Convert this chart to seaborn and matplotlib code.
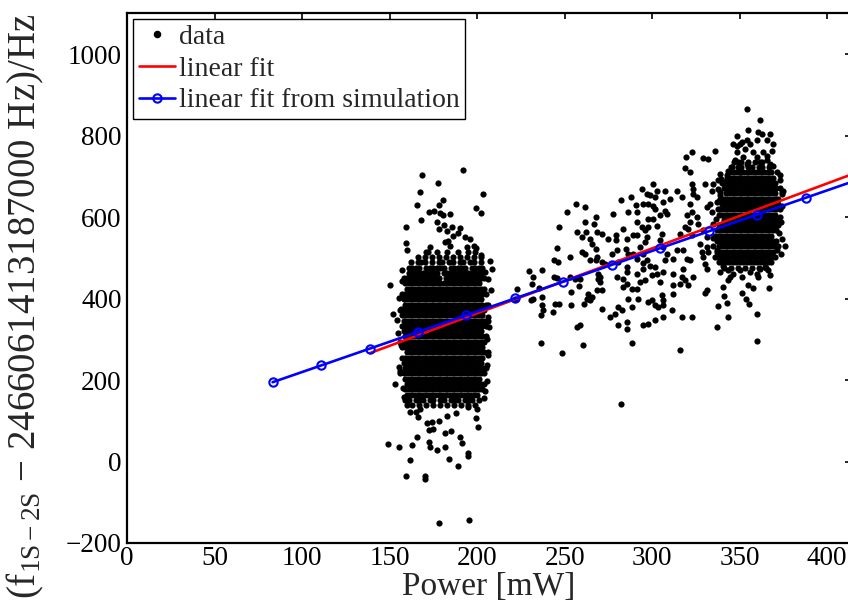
import matplotlib
matplotlib.use("Agg")
import matplotlib.pyplot as plt
from matplotlib.lines import Line2D
import pandas as pd
import seaborn as sns

# ---------------- data ----------------
# Dense core of the low-power run: (offset in Hz, powers in mW measured at that offset)
core_low = [
    (138, [163, 167, 171, 175, 179, 183, 187, 191, 195, 199]),
    (151, [159, 161, 165, 167, 169, 173, 175, 179, 181, 185, 187, 189, 193, 195, 197, 201]),
    (164, [160, 162, 164, 166, 168, 170, 172, 174, 176, 178, 180, 182, 184, 186, 188, 190, 192, 194, 196, 198, 200]),
    (177, [159, 161, 163, 165, 167, 169, 171, 173, 175, 177, 179, 181, 183, 185, 187, 189, 191, 193, 195, 197, 199, 201, 203]),
    (190, [160, 162, 164, 166, 168, 170, 172, 174, 176, 178, 180, 182, 184, 186, 188, 190, 192, 194, 196, 198, 200, 202, 204]),
    (203, [159, 161, 163, 165, 167, 169, 171, 173, 175, 177, 179, 181, 183, 185, 187, 189, 191, 193, 195, 197, 199, 201]),
    (216, [156, 158, 160, 162, 164, 166, 168, 170, 172, 174, 176, 178, 180, 182, 184, 186, 188, 190, 192, 194, 196, 198, 200, 202, 204]),
    (229, [159, 161, 163, 165, 167, 169, 171, 173, 175, 177, 179, 181, 183, 185, 187, 189, 191, 193, 195, 197, 199, 201, 203, 205]),
    (242, [158, 160, 162, 164, 166, 168, 170, 172, 174, 176, 178, 180, 182, 184, 186, 188, 190, 192, 194, 196, 198, 200, 202]),
    (255, [157, 159, 161, 163, 165, 167, 169, 171, 173, 175, 177, 179, 181, 183, 185, 187, 189, 191, 193, 195, 197, 199, 201, 203]),
    (268, [160, 162, 164, 166, 168, 170, 172, 174, 176, 178, 180, 182, 184, 186, 188, 190, 192, 194, 196, 198, 200, 202, 204, 206]),
    (281, [157, 159, 161, 163, 165, 167, 169, 171, 173, 175, 177, 179, 181, 183, 185, 187, 189, 191, 193, 195, 197, 199, 201, 203]),
    (294, [156, 158, 160, 162, 164, 166, 168, 170, 172, 174, 176, 178, 180, 182, 184, 186, 188, 190, 192, 194, 196, 198, 200, 202, 204]),
    (307, [159, 161, 163, 165, 167, 169, 171, 173, 175, 177, 179, 181, 183, 185, 187, 189, 191, 193, 195, 197, 199, 201, 203, 205]),
    (320, [158, 160, 162, 164, 166, 168, 170, 172, 174, 176, 178, 180, 182, 184, 186, 188, 190, 192, 194, 196, 198, 200, 202]),
    (333, [157, 159, 161, 163, 165, 167, 169, 171, 173, 175, 177, 179, 181, 183, 185, 187, 189, 191, 193, 195, 197, 199, 201, 203, 205]),
    (346, [158, 160, 162, 164, 166, 168, 170, 172, 174, 176, 178, 180, 182, 184, 186, 188, 190, 192, 194, 196, 198, 200, 202, 204, 206]),
    (359, [157, 159, 161, 163, 165, 167, 169, 171, 173, 175, 177, 179, 181, 183, 185, 187, 189, 191, 193, 195, 197, 199, 201, 203]),
    (372, [156, 158, 160, 162, 164, 166, 168, 170, 172, 174, 176, 178, 180, 182, 184, 186, 188, 190, 192, 194, 196, 198, 200, 202, 204]),
    (385, [159, 161, 163, 165, 167, 169, 171, 173, 175, 177, 179, 181, 183, 185, 187, 189, 191, 193, 195, 197, 199, 201, 203, 205]),
    (398, [158, 160, 162, 164, 166, 168, 170, 172, 174, 176, 178, 180, 182, 184, 186, 188, 190, 192, 194, 196, 198, 200, 202]),
    (411, [157, 159, 161, 163, 165, 167, 169, 171, 173, 175, 177, 179, 181, 183, 185, 187, 189, 191, 193, 195, 197, 199, 201, 203]),
    (424, [160, 162, 164, 166, 168, 170, 172, 174, 176, 178, 180, 182, 184, 186, 188, 190, 192, 194, 196, 198, 200, 202, 204]),
    (437, [159, 161, 163, 165, 167, 169, 171, 173, 175, 177, 179, 181, 183, 185, 187, 189, 191, 193, 195, 197, 199, 201]),
    (450, [158, 160, 162, 164, 166, 168, 170, 172, 174, 176, 178, 182, 184, 186, 188, 190, 192, 194, 196, 198, 200, 202, 204]),
    (463, [161, 163, 165, 167, 169, 171, 173, 175, 177, 181, 183, 185, 187, 189, 191, 193, 195, 197, 199, 201, 203]),
    (476, [161, 163, 165, 167, 171, 173, 175, 177, 179, 181, 185, 187, 189, 191, 193, 197, 199, 201, 203]),
    (489, [162, 166, 168, 170, 174, 178, 180, 184, 186, 190, 192, 196, 198, 202]),
    (502, [166, 170, 174, 178, 182, 186, 190, 194, 198, 202]),
    (515, [171, 177, 183, 189, 195, 199]),
]

# Scattered points around the low-power run: (power mW, offset Hz)
scatter_low = [
    (168.4, 704), (192.1, 715), (177.6, 684), (167.5, 662), (203.5, 657), (165.4, 630),
    (180.3, 642), (178.2, 630), (167.9, 593), (172.3, 612), (175.5, 614), (178.7, 610),
    (180.6, 604), (184.5, 608), (199.3, 622), (202.2, 610), (176.9, 587), (181, 580),
    (185.4, 575), (178.4, 570), (182.6, 566), (159.3, 575), (190.2, 572), (189.2, 562),
    (186.3, 553), (193, 550), (195.9, 545), (159.3, 536), (160, 518), (181.6, 538),
    (183.5, 540), (184.5, 528), (198.2, 530), (199.3, 524), (194, 527), (173, 526), (172, 514),
    (150.2, 434), (152, 363), (154, 348), (207.3, 491), (208.3, 473), (207.9, 420),
    (206, 383), (206, 355), (202, 508), (204.5, 173), (153, 191), (155.5, 232),
    (155.6, 222), (156.5, 287), (155, 316), (156.2, 375), (155.4, 402), (157, 444),
    (156.8, 470), (157.5, 180), (158, 158), (205.5, 197), (206.2, 262), (205.8, 301),
    (206.5, 330), (205.2, 410), (206.4, 448), (205.5, 236), (204.6, 466), (203.8, 156),
    (149.2, 42), (155.5, 35), (162.6, 40), (161.6, 3), (159.3, -35), (170.2, -35),
    (170.2, -43), (172.6, 48), (173, 36), (176.9, 28), (181.4, 36), (183.9, 6),
    (189.2, -11), (194.9, 20), (194.9, 13), (190.2, 59), (191.1, 46), (165.4, 59),
    (172.6, 77), (174.6, 79), (181.6, 70), (184.9, 74), (171.1, 95), (174, 97),
    (178.2, 99), (199.3, 106), (200.3, 84), (178.2, -152), (195.5, -144), (165, 122),
    (167.3, 130), (166, 110), (194.9, 135), (161.6, 122), (159.7, 138), (199.7, 128),
    (188, 120), (183, 112),
]

# Points between the two main runs
scatter_mid = [
    (256.4, 632), (261.8, 624), (251.1, 612), (246.9, 575), (257.2, 563), (262, 563),
    (261.6, 588), (266.7, 584), (267.7, 600), (259.7, 551), (264.4, 547), (268.6, 563),
    (271.1, 559), (274.9, 547), (279.3, 543), (279.3, 555), (277.4, 608), (282.2, 641),
    (288.1, 649), (286, 612), (291.1, 612), (290.5, 630), (294, 669), (296.8, 657),
    (294.9, 632), (297.8, 632), (283.5, 571), (285.4, 547), (289.2, 555), (291.1, 555),
    (291.1, 588), (294, 575), (295.9, 567), (296.8, 551),
    (245.4, 525), (244.1, 494), (246.3, 489), (253, 502), (259.7, 514), (261.6, 510),
    (264.4, 494), (267.9, 494), (268.6, 502), (265.4, 534), (267.9, 522), (271.1, 489),
    (273, 485), (279.7, 518), (276.8, 510), (280.6, 489), (285, 522), (286.3, 510),
    (289.2, 510), (294.9, 510), (291.1, 498), (285.8, 477), (285.4, 465), (291.1, 461),
    (294.9, 473), (296.8, 494),
    (229.8, 467), (232.1, 453), (236.8, 469), (243.9, 453), (245.4, 451), (231.1, 436),
    (235.5, 427), (236.8, 404), (231.7, 400), (222.9, 424), (221.6, 400), (253, 453),
    (255.9, 449), (258.7, 449), (258.3, 430), (253.4, 416), (263.5, 410), (262.5, 400),
    (265.4, 404), (268.3, 420), (271.1, 422), (269.2, 449), (270.2, 440), (270.2, 453),
    (269.2, 461), (279.7, 453), (283.5, 449), (283.1, 428), (285.4, 436), (288.3, 424),
    (291.1, 424), (293, 440), (295.9, 445), (286.4, 400), (292.1, 400),
    (230.7, 396), (236.8, 383), (237.8, 371), (236.3, 359), (243.1, 367), (244.4, 387),
    (246.9, 387), (253.4, 385), (261.2, 387), (264.4, 396), (271.1, 375), (275.9, 355),
    (278.7, 363), (280.6, 379), (282.5, 371), (280.6, 334), (285.4, 342), (285.4, 326),
    (288.3, 379), (294.9, 334), (256.8, 330), (258.7, 334), (236.4, 291), (260.3, 285),
    (248.3, 267), (288.3, 291), (282.2, 141),
    (314, 665), (316.8, 649), (310.2, 645), (306.3, 637), (307.3, 665), (300.6, 682),
    (302.5, 665), (298.7, 653), (301.6, 649), (300.6, 628), (301.6, 620), (307.3, 616),
    (308.2, 608), (304.4, 604), (300.6, 596), (297.8, 596), (297.8, 575), (302.5, 579),
    (305.4, 559), (304.4, 543), (315.9, 559), (293, 526), (295.9, 538), (306.3, 526),
    (308.2, 510), (307.3, 494), (312, 498), (314, 518), (317.8, 518), (294.9, 486),
    (298.7, 481), (301.6, 477), (306.3, 465), (312, 461), (317.8, 473),
    (299.7, 457), (302.5, 461), (304.4, 441), (312, 432), (315.9, 436), (305.4, 408),
    (306.3, 396), (299.7, 396), (297.8, 391), (301.6, 383), (306.3, 383), (303.5, 379),
    (312, 412), (311.1, 373), (297.8, 338), (301.6, 348), (306.3, 355), (315.6, 273),
]

# Dense core of the high-power run: (offset in Hz, powers in mW)
core_high = [
    (476, [341, 345, 349, 353, 357, 361, 365]),
    (489, [338, 340, 342, 344, 346, 348, 350, 352, 354, 356, 358, 360, 362, 364, 366, 368]),
    (502, [336, 338, 340, 342, 344, 346, 348, 350, 352, 354, 356, 358, 360, 362, 364, 366, 368, 370]),
    (515, [337, 339, 341, 343, 345, 347, 349, 351, 353, 355, 357, 359, 361, 363, 365, 367, 369]),
    (528, [338, 340, 342, 344, 346, 348, 350, 352, 354, 356, 358, 360, 362, 364, 366, 368, 370, 372]),
    (541, [337, 339, 341, 343, 345, 347, 349, 351, 353, 355, 357, 359, 361, 363, 365, 367, 369, 371]),
    (554, [336, 338, 340, 342, 344, 346, 348, 350, 352, 354, 356, 358, 360, 362, 364, 366, 368]),
    (567, [339, 341, 343, 345, 347, 349, 351, 353, 355, 357, 359, 361, 363, 365, 367, 369, 371]),
    (580, [338, 340, 342, 344, 346, 348, 350, 352, 354, 356, 358, 360, 362, 364, 366, 368, 370, 372]),
    (593, [341, 343, 345, 347, 349, 351, 353, 355, 357, 359, 361, 363, 365, 367, 369, 371]),
    (606, [338, 340, 342, 344, 346, 348, 350, 352, 354, 356, 358, 360, 362, 364, 366, 368, 370]),
    (619, [339, 341, 343, 345, 347, 349, 351, 353, 355, 357, 359, 361, 363, 365, 367, 369, 371, 373]),
    (632, [340, 342, 344, 346, 348, 350, 352, 354, 356, 358, 360, 362, 364, 366, 368, 370, 372]),
    (645, [339, 341, 343, 345, 347, 349, 351, 353, 355, 357, 359, 361, 363, 365, 367, 369, 371]),
    (658, [342, 344, 346, 348, 350, 352, 354, 356, 358, 360, 362, 364, 366, 368, 370]),
    (671, [341, 343, 345, 347, 349, 351, 353, 355, 357, 359, 361, 363, 365, 367, 369, 371, 373]),
    (684, [340, 342, 344, 346, 348, 350, 352, 354, 356, 358, 360, 362, 364, 366, 368, 370]),
    (697, [343, 345, 347, 349, 351, 353, 355, 357, 359, 361, 363, 365, 367, 369]),
    (710, [344, 346, 348, 350, 352, 354, 356, 358, 360, 362, 364, 366, 368]),
    (723, [345, 349, 351, 355, 357, 361, 363, 367]),
    (736, [347, 351, 355, 359, 363]),
]

# Scattered points around the high-power run: (power mW, offset Hz)
scatter_high = [
    (354.3, 865), (361.6, 837), (354.9, 814), (360.6, 808), (362.5, 804), (367.3, 804),
    (365.4, 788), (348.3, 800), (351.1, 784), (354, 788), (355.9, 780), (359.7, 788),
    (346.3, 780), (348.3, 775), (350.2, 780), (369.2, 780), (368.3, 763), (363.5, 759),
    (365.4, 751), (353, 767), (348.3, 759), (347.3, 739), (352, 747), (357.8, 759),
    (359.7, 747), (361.6, 735), (365.4, 739), (367.3, 731), (369.2, 726),
    (335.9, 761), (332.1, 743), (329.2, 745), (322.5, 759), (319.3, 747), (318.7, 721),
    (321.6, 710), (354, 731), (355.9, 714), (350.2, 710), (345.4, 722), (343.5, 714),
    (349.2, 735), (338.7, 706), (342.5, 702), (337.8, 690), (341.6, 686), (371.1, 710),
    (373, 702), (374.9, 665), (374, 657), (372.1, 645),
    (330.2, 682), (334.9, 682), (337.8, 669), (334, 665), (338.7, 653), (322.5, 682),
    (323.5, 669), (323.5, 657), (325.4, 649), (321.6, 632),
    (319.7, 604), (322.5, 612), (325.4, 600), (326.4, 584), (321.6, 588), (331.1, 624),
    (333, 632), (334, 612), (337.8, 620), (338.7, 641), (318.7, 575), (320.6, 571),
    (322.5, 555), (329.2, 567), (331.1, 551), (336.8, 567),
    (327.3, 534), (328.2, 514), (331.1, 526), (334.9, 530), (336.8, 518), (339.7, 502),
    (375.9, 530), (374, 661), (373, 600), (372.5, 560),
    (335, 548), (334.5, 583), (336.5, 596), (337, 638), (338.5, 661), (339.5, 694),
    (373.5, 510), (374, 545), (373.6, 588), (374.2, 628), (372.8, 690), (371.5, 520),
    (319.7, 498), (321.6, 494), (329.2, 502), (330.2, 485), (331.1, 473), (332.1, 514),
    (316.9, 453), (318.8, 445), (323.5, 453), (320.7, 432), (338.8, 465), (340.7, 481),
    (343.5, 469), (344.5, 453), (346.4, 461), (350.2, 469), (351.1, 453), (343.5, 445),
    (355.9, 465), (359.7, 461), (361.6, 473), (364.5, 477), (366.4, 469), (367.3, 457),
    (360.7, 453), (340.7, 428), (355, 432), (357.4, 426), (367, 426), (330.2, 413),
    (331.1, 421), (351.1, 413), (353.4, 400), (355.5, 386), (341.2, 405), (342.6, 390),
    (337.8, 382), (316.9, 355), (322.6, 355), (343.5, 355), (360.1, 363), (337.2, 330),
    (359.7, 295),
]

# Least-squares line through the measurements
fit_power = [138.7, 415.4]
fit_shift = [266, 707]

# Line predicted by the simulation
sim_power = [83.1, 110.8, 138.5, 166.2, 193.8, 221.5, 249.2, 276.9, 304.6, 332.3, 360.0, 387.7, 415.4]
sim_shift = [194.6, 235.7, 276.9, 318.1, 359.1, 400.2, 441.4, 482.6, 523.7, 564.9, 606.1, 647.2, 688.4]

x_ticks = [0, 50, 100, 150, 200, 250, 300, 350, 400]
y_ticks = [-200, 0, 200, 400, 600, 800, 1000]

# ---------------- table ----------------
points = []
for shift, powers in core_low + core_high:
    points += [(p, shift) for p in powers]
points += scatter_low + scatter_mid + scatter_high
df = pd.DataFrame(points, columns=["power", "shift"])

# ---------------- style ----------------
sns.set_style("white")
plt.rcParams["font.family"] = ["Liberation Serif", "DejaVu Serif"]
plt.rcParams["mathtext.fontset"] = "custom"
plt.rcParams["mathtext.rm"] = "Liberation Serif"
plt.rcParams["mathtext.it"] = "Liberation Serif:italic"

W, H = 848, 604
fig = plt.figure(figsize=(W / 100, H / 100), dpi=100)
ax_left, ax_right, ax_top, ax_bottom = 127.2, 850.8, 13.3, 543.0
ax = fig.add_axes([ax_left / W, 1 - ax_bottom / H,
                   (ax_right - ax_left) / W, (ax_bottom - ax_top) / H])

sns.scatterplot(data=df, x="power", y="shift", ax=ax, s=20, color="black",
                linewidth=0, legend=False, zorder=2)
sns.lineplot(x=fit_power, y=fit_shift, ax=ax, color="red", linewidth=1.9,
             zorder=3)
sns.lineplot(x=sim_power, y=sim_shift, ax=ax, color="blue", linewidth=1.9,
             marker="o", markersize=6, markerfacecolor="none",
             markeredgecolor="blue", markeredgewidth=1.5, zorder=4)

ax.set_xlim(0, (ax_right - ax_left) / 1.75)
ax.set_ylim(-200, 1100)
ax.set_xticks(x_ticks)
ax.set_yticks(y_ticks)

ax.tick_params(direction="in", length=4, width=1.2, top=True, right=True,
               labelsize=19.5, colors="black")
ax.tick_params(axis="x", pad=2.5)
ax.tick_params(axis="y", pad=4)
for sp in ax.spines.values():
    sp.set_linewidth(1.6)
    sp.set_color("black")

ax.set_xlabel("Power [mW]", fontsize=24, va="top")
ax.xaxis.set_label_coords(0.5, -0.0545)
ax.set_ylabel("(f$_{\\mathregular{1S-2S}}$ \u2212 2466061413187000 Hz)/Hz", fontsize=28)
ax.yaxis.set_label_coords(-0.112, 0.447)

handles = [
    Line2D([], [], color="black", marker="o", markersize=4.4, linestyle="none"),
    Line2D([], [], color="red", linewidth=1.9),
    Line2D([], [], color="blue", linewidth=1.9, marker="o", markersize=6,
           markerfacecolor="none", markeredgewidth=1.5),
]
labels = ["data", "linear fit", "linear fit from simulation"]
leg = ax.legend(handles, labels, loc="upper left", bbox_to_anchor=(0.008, 0.989),
                borderaxespad=0, fontsize=20, frameon=True, fancybox=False,
                edgecolor="black", framealpha=1, handlelength=1.3,
                handletextpad=0.15, borderpad=0.2, labelspacing=0.22)
leg.get_frame().set_linewidth(1.0)

fig.savefig("out.png", dpi=100)
